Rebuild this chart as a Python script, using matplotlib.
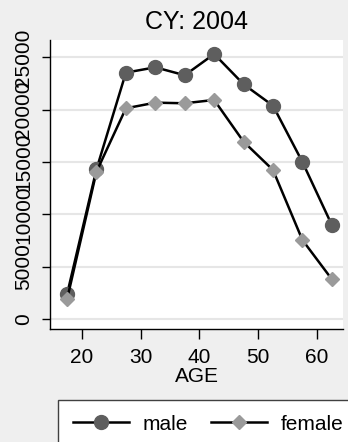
import matplotlib
matplotlib.use("Agg")
import matplotlib.pyplot as plt

plt.rcParams['font.family'] = ['Liberation Sans', 'DejaVu Sans']

# Age group midpoints and counts by sex
ages = [17.5, 22.5, 27.5, 32.5, 37.5, 42.5, 47.5, 52.5, 57.5, 62.5]
male = [2360, 14310, 23550, 24060, 23300, 25330, 22440, 20390, 15010, 8990]
female = [1880, 14080, 20140, 20680, 20620, 20940, 16950, 14245, 7550, 3800]

x_ticks = [20, 30, 40, 50, 60]
y_ticks = [0, 5000, 10000, 15000, 20000, 25000]

BG = '#efefef'

fig = plt.figure(figsize=(3.48, 4.42), dpi=100, facecolor=BG)
ax = fig.add_axes([50 / 348, 1 - 329 / 442, 293 / 348, 289 / 442])
ax.set_facecolor('white')

ax.plot(ages, male, color='black', lw=1.8, marker='o', ms=10,
        mfc='#5e5e5e', mec='#5e5e5e', label='male', zorder=3)
ax.plot(ages, female, color='black', lw=1.8, marker='D', ms=7,
        mfc='#9a9a9a', mec='#9a9a9a', label='female', zorder=3)

ax.set_xlim(14.6, 64.4)
ax.set_ylim(-960, 26670)
ax.set_xticks(x_ticks)
ax.set_yticks(y_ticks)
ax.set_yticklabels([str(v) for v in y_ticks], rotation=90, va='center')

ax.grid(axis='y', color='#e6e6e6', lw=1.5)
ax.set_axisbelow(True)
for side in ('top', 'right'):
    ax.spines[side].set_visible(False)
for side in ('left', 'bottom'):
    ax.spines[side].set_color('black')
    ax.spines[side].set_linewidth(1)

ax.tick_params(axis='y', length=6, width=1, labelsize=15, pad=6)
ax.tick_params(axis='x', length=7, width=1, labelsize=15, pad=7)

ax.set_xlabel('AGE', fontsize=15, labelpad=0)
ax.set_title('CY: 2004', fontsize=18, pad=8)

# legend box hangs off the bottom of the figure
fig.legend(loc='upper left', bbox_to_anchor=(58 / 348, 1 - 400 / 442),
           bbox_transform=fig.transFigure, ncol=2, fontsize=15,
           frameon=True, fancybox=False, edgecolor='#404040',
           facecolor='white', framealpha=1, borderaxespad=0,
           handlelength=2.7, handletextpad=0.65, columnspacing=1.1,
           borderpad=0.7)

fig.savefig('out.png', dpi=100, facecolor=BG)
